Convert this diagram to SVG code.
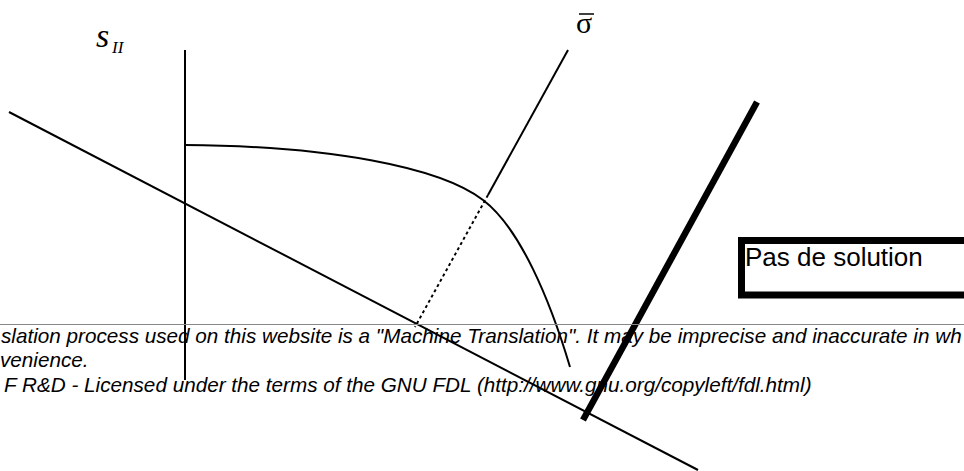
<svg xmlns="http://www.w3.org/2000/svg" width="964" height="471" viewBox="0 0 964 471">
<style>
.ln{stroke:#000;stroke-width:2;fill:none}
.it{font-family:"Liberation Sans",Arial,sans-serif;font-style:italic;font-size:20.7px;fill:#000}
.ser{font-family:"Liberation Serif","Times New Roman",serif;fill:#000}
</style>
<rect width="964" height="471" fill="#fff"/>
<g id="connectors">
<line class="ln" x1="185" y1="50" x2="185" y2="380"/>
<line class="ln" x1="9" y1="112" x2="698" y2="470"/>
<path id="curve" class="ln" d="M185,145 C330,146 440,167 483,200 C520,228 550,300 570,367"/>
<line class="ln" x1="568" y1="50" x2="488" y2="195"/>
<line class="ln" x1="488" y1="195" x2="415" y2="327" stroke-dasharray="3,3"/>
<line x1="757" y1="102" x2="583" y2="420" stroke="#000" stroke-width="6.5"/>
</g>
<g id="label-s">
<text class="ser" x="96" y="47" font-size="34" font-style="italic">s</text>
<text class="ser" x="112" y="53" font-size="17" font-style="italic">II</text>
</g>
<g id="label-sigma">
<text class="ser" x="576" y="33" font-size="30">σ</text>
<line x1="579" y1="14" x2="594" y2="14" stroke="#000" stroke-width="1.5"/>
</g>
<g id="no-solution">
<rect x="741.5" y="240.5" width="240" height="54.5" fill="#fff" stroke="#000" stroke-width="7"/>
<text x="745" y="266" font-family="Liberation Sans,Arial,sans-serif" font-size="26" fill="#000">Pas de solution</text>
</g>
<g id="disclaimer">
<line x1="0" y1="324.5" x2="964" y2="324.5" stroke="#888" stroke-width="1"/>
<text class="it" x="1" y="343">slation process used on this website is a "Machine Translation". It may be imprecise and inaccurate in wh</text>
<text class="it" x="0" y="367">venience.</text>
<text class="it" x="4" y="392">F R&amp;D - Licensed under the terms of the GNU FDL (http://www.gnu.org/copyleft/fdl.html)</text>
</g>
</svg>
